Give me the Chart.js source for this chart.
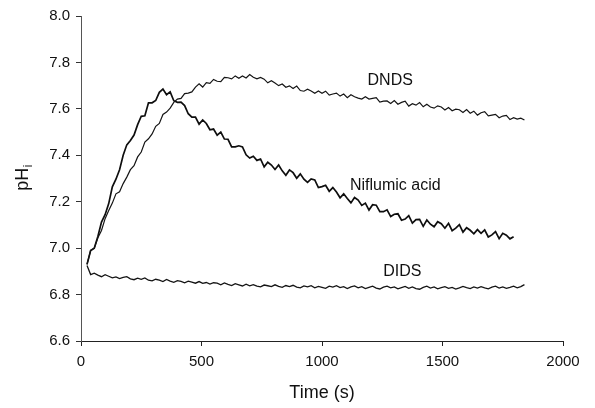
<!DOCTYPE html>
<html>
<head>
<meta charset="utf-8">
<script src="https://cdn.jsdelivr.net/npm/chart.js@4/dist/chart.umd.min.js"></script>
<style>
  html, body { margin: 0; padding: 0; background: #fff; }
  #wrap { width: 595px; height: 408px; }
</style>
</head>
<body>
<div id="wrap"><canvas id="phChart" width="595" height="408"></canvas></div>
<script>
// sampling times (s)
const time = [25, 40, 55, 70, 85, 100, 115, 130, 145, 160, 175, 190, 205, 220, 235, 250, 265, 280, 295, 310,
  325, 340, 355, 370, 385, 400, 415, 430, 445, 460, 475, 490, 505, 520, 535, 550, 565, 580, 595, 610,
  625, 640, 655, 670, 685, 700, 715, 730, 745, 760, 775, 790, 805, 820, 835, 850, 865, 880, 895, 910,
  925, 940, 955, 970, 985, 1000, 1015, 1030, 1045, 1060, 1075, 1090, 1105, 1120, 1135, 1150, 1165, 1180, 1195, 1210,
  1225, 1240, 1255, 1270, 1285, 1300, 1315, 1330, 1345, 1360, 1375, 1390, 1405, 1420, 1435, 1450, 1465, 1480, 1495, 1510,
  1525, 1540, 1555, 1570, 1585, 1600, 1615, 1630, 1645, 1660, 1675, 1690, 1705, 1720, 1735, 1750, 1765, 1780, 1795, 1810,
  1825, 1840];

// pHi traces
const dnds = [6.93, 6.99, 7.00, 7.045, 7.076, 7.127, 7.162, 7.194, 7.234, 7.243, 7.278, 7.306, 7.338, 7.355, 7.393, 7.414, 7.457, 7.471, 7.492, 7.525,
  7.537, 7.576, 7.586, 7.603, 7.628, 7.642, 7.645, 7.666, 7.668, 7.673, 7.694, 7.708, 7.694, 7.713, 7.71, 7.727, 7.719, 7.717, 7.736, 7.734,
  7.729, 7.742, 7.732, 7.742, 7.733, 7.748, 7.736, 7.729, 7.735, 7.728, 7.712, 7.721, 7.711, 7.70, 7.707, 7.693, 7.699, 7.688, 7.698, 7.679,
  7.676, 7.685, 7.677, 7.667, 7.677, 7.667, 7.676, 7.659, 7.664, 7.668, 7.655, 7.664, 7.648, 7.661, 7.652, 7.646, 7.642, 7.652, 7.642, 7.645,
  7.648, 7.629, 7.633, 7.634, 7.623, 7.636, 7.62, 7.628, 7.633, 7.612, 7.622, 7.616, 7.627, 7.609, 7.62, 7.608, 7.603, 7.613, 7.608, 7.595,
  7.606, 7.592, 7.599, 7.596, 7.584, 7.597, 7.581, 7.59, 7.573, 7.583, 7.588, 7.57, 7.573, 7.576, 7.562, 7.569, 7.572, 7.554, 7.562, 7.556,
  7.56, 7.552];

const niflumic = [6.93, 6.99, 7.00, 7.05, 7.112, 7.144, 7.192, 7.264, 7.297, 7.338, 7.40, 7.445, 7.464, 7.487, 7.532, 7.568, 7.57, 7.626, 7.626, 7.636,
  7.671, 7.685, 7.661, 7.673, 7.635, 7.628, 7.629, 7.614, 7.579, 7.564, 7.564, 7.534, 7.552, 7.537, 7.51, 7.513, 7.487, 7.50, 7.47, 7.469,
  7.436, 7.436, 7.441, 7.436, 7.402, 7.388, 7.396, 7.378, 7.384, 7.35, 7.37, 7.358, 7.339, 7.358, 7.333, 7.314, 7.337, 7.325, 7.301, 7.32,
  7.297, 7.283, 7.298, 7.294, 7.261, 7.265, 7.271, 7.245, 7.261, 7.242, 7.217, 7.234, 7.214, 7.195, 7.218, 7.207, 7.184, 7.194, 7.164, 7.187,
  7.185, 7.157, 7.157, 7.165, 7.136, 7.146, 7.148, 7.12, 7.125, 7.14, 7.108, 7.123, 7.124, 7.094, 7.121, 7.103, 7.092, 7.114, 7.105, 7.086,
  7.107, 7.075, 7.086, 7.101, 7.069, 7.088, 7.077, 7.062, 7.08, 7.064, 7.079, 7.048, 7.057, 7.071, 7.041, 7.064, 7.056, 7.04, 7.049];

const dids = [6.925, 6.886, 6.892, 6.884, 6.877, 6.886, 6.879, 6.872, 6.876, 6.869, 6.874, 6.877, 6.868, 6.864, 6.871, 6.866, 6.872, 6.862, 6.859, 6.866,
  6.862, 6.856, 6.865, 6.858, 6.853, 6.86, 6.857, 6.851, 6.858, 6.854, 6.849, 6.856, 6.848, 6.852, 6.845, 6.851, 6.849, 6.842, 6.85, 6.844,
  6.839, 6.847, 6.842, 6.837, 6.845, 6.838, 6.843, 6.836, 6.833, 6.841, 6.838, 6.834, 6.842, 6.835, 6.831, 6.839, 6.834, 6.84, 6.832, 6.829,
  6.837, 6.833, 6.838, 6.829, 6.835, 6.831, 6.827, 6.836, 6.832, 6.838, 6.83, 6.834, 6.826, 6.833, 6.837, 6.829, 6.834, 6.826, 6.831, 6.836,
  6.828, 6.824, 6.832, 6.836, 6.829, 6.833, 6.825, 6.83, 6.835, 6.827, 6.833, 6.826, 6.823, 6.831, 6.836, 6.828, 6.833, 6.825, 6.83, 6.834,
  6.827, 6.831, 6.824, 6.829, 6.835, 6.83, 6.826, 6.833, 6.828, 6.834, 6.829, 6.825, 6.832, 6.836, 6.828, 6.833, 6.827, 6.831, 6.836, 6.829,
  6.834, 6.843];

// curve labels and where they sit (data units)
const seriesNames = ["DNDS", "Niflumic acid", "DIDS"];
const labelTime = [1283, 1304, 1333];
const labelPH = [7.72, 7.27, 6.90];

const FONT = "'Liberation Sans', Arial, Helvetica, sans-serif";

function toPoints(values) {
  return values.map((v, i) => ({ x: time[i], y: v }));
}

// text on the plot: curve names and the pHi axis title with subscript
const textPlugin = {
  id: "textPlugin",
  afterDraw(chart) {
    const ctx = chart.ctx;
    const xs = chart.scales.x, ys = chart.scales.y;
    ctx.save();
    ctx.fillStyle = "#111";
    ctx.font = "16px " + FONT;
    ctx.textAlign = "center";
    ctx.textBaseline = "middle";
    seriesNames.forEach((name, i) => {
      ctx.fillText(name, xs.getPixelForValue(labelTime[i]), ys.getPixelForValue(labelPH[i]));
    });

    // y title "pHi"
    ctx.translate(22, 178);
    ctx.rotate(-Math.PI / 2);
    ctx.textAlign = "left";
    ctx.textBaseline = "alphabetic";
    ctx.font = "18px " + FONT;
    const w1 = ctx.measureText("pH").width;
    ctx.font = "12px " + FONT;
    const w2 = ctx.measureText("i").width;
    const x0 = -(w1 + w2) / 2;
    ctx.font = "18px " + FONT;
    ctx.fillText("pH", x0, 6);
    ctx.font = "12px " + FONT;
    ctx.fillText("i", x0 + w1 + 0.5, 10);
    ctx.restore();
  }
};

new Chart(document.getElementById("phChart"), {
  type: "line",
  data: {
    datasets: [
      { label: seriesNames[0], data: toPoints(dnds), borderColor: "#141414", borderWidth: 1.2 },
      { label: seriesNames[1], data: toPoints(niflumic), borderColor: "#0e0e0e", borderWidth: 1.7 },
      { label: seriesNames[2], data: toPoints(dids), borderColor: "#141414", borderWidth: 1.3 }
    ]
  },
  options: {
    responsive: false,
    animation: false,
    events: [],
    elements: { point: { radius: 0 }, line: { tension: 0 } },
    layout: { padding: { left: 0, right: 32, top: 16, bottom: 0 } },
    plugins: { legend: { display: false }, tooltip: { enabled: false } },
    scales: {
      x: {
        type: "linear",
        min: 0,
        max: 2000,
        afterFit: (s) => { s.height = 67; },
        ticks: { stepSize: 500, color: "#111", padding: 7, font: { family: FONT, size: 15 },
          callback: (v) => String(v) },
        grid: { drawOnChartArea: false, drawTicks: true, tickLength: 5, color: "#222" },
        border: { display: true, color: "#222", width: 1 },
        title: { display: true, text: "Time (s)", color: "#111", padding: { top: 0, bottom: 4 }, font: { family: FONT, size: 18 } }
      },
      y: {
        min: 6.6,
        max: 8.0,
        afterFit: (s) => { s.width = 81; },
        ticks: { stepSize: 0.2, color: "#111", padding: 6, font: { family: FONT, size: 15 },
          callback: (v) => v.toFixed(1) },
        grid: { drawOnChartArea: false, drawTicks: true, tickLength: 5, color: "#333" },
        border: { display: true, color: "#555", width: 1 }
      }
    }
  },
  plugins: [textPlugin]
});
</script>
</body>
</html>
